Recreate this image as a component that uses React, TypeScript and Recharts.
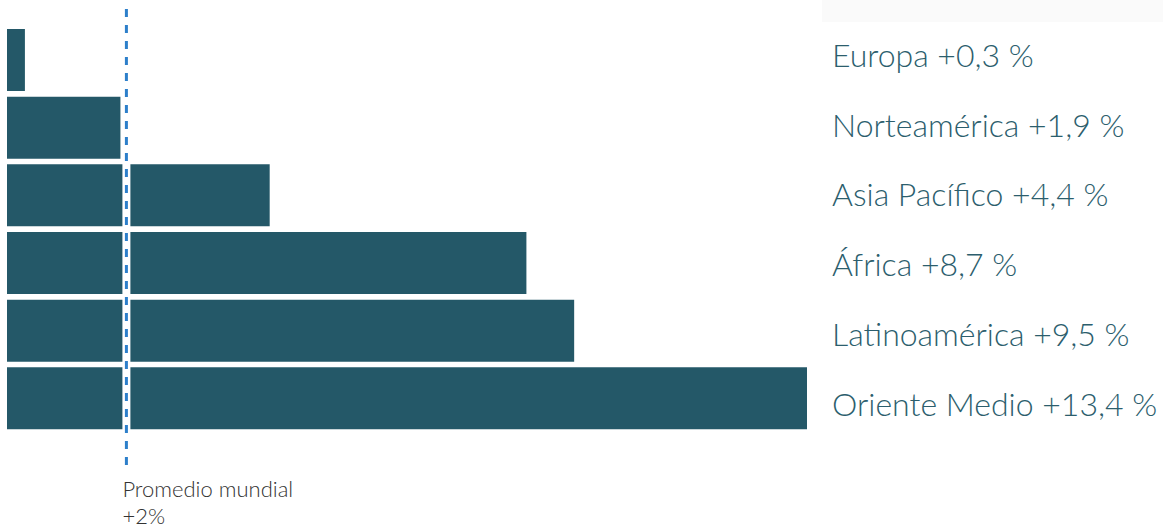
import { BarChart, Bar, XAxis, YAxis, ReferenceLine } from 'recharts'

const regions = ['Europa', 'Norteamérica', 'Asia Pacífico', 'África', 'Latinoamérica', 'Oriente Medio']
const growth = [0.3, 1.9, 4.4, 8.7, 9.5, 13.4]
const worldAverage = 2
const averageLabel = ['Promedio mundial', '+2%']

const data = regions.map((name, i) => ({
  name,
  value: growth[i],
  label: `${name} +${String(growth[i]).replace('.', ',')} %`
}))

const RegionTick = (props: any) => {
  const { x, y, payload, index } = props
  const row = data.find((d) => d.name === payload.value)
  return (
    <text
      x={x}
      y={y + 7 + 2.1 * (index ?? 0)}
      textAnchor="start"
      fill="#2c5e6d"
      fontSize={32}
      fontWeight={300}
      fontFamily="Lato, sans-serif"
    >
      {row ? row.label : payload.value}
    </text>
  )
}

const AverageLine = (props: any) => {
  const { x1, y1, y2 } = props
  const top = Math.min(y1, y2)
  const bottom = Math.max(y1, y2)
  return (
    <g>
      <line x1={x1} x2={x1} y1={top} y2={bottom} stroke="#ffffff" strokeWidth={8} />
      <line
        x1={x1}
        x2={x1}
        y1={top - 17}
        y2={bottom + 33}
        stroke="#2d7fca"
        strokeWidth={3}
        strokeDasharray="8 8"
      />
      <text x={x1 - 4} y={bottom + 65} fill="#333" fontSize={22} fontWeight={300} fontFamily="Lato, sans-serif">
        <tspan x={x1 - 4}>{averageLabel[0]}</tspan>
        <tspan x={x1 - 4} dy={27}>
          {averageLabel[1]}
        </tspan>
      </text>
    </g>
  )
}

export default function App() {
  return (
    <div style={{ position: 'absolute', left: 0, top: 0, width: 1163, height: 530, background: '#fff' }}>
      <div style={{ position: 'absolute', left: 822, top: 0, width: 341, height: 22, background: '#fafafa' }} />
      <BarChart
        width={1163}
        height={530}
        data={data}
        layout="vertical"
        margin={{ top: 26, right: 0, bottom: 98, left: 7 }}
        style={{ position: 'absolute', left: 0, top: 0 }}
      >
        <XAxis type="number" domain={[0, 13.4]} hide />
        <YAxis
          type="category"
          dataKey="name"
          orientation="right"
          width={356}
          axisLine={false}
          tickLine={false}
          tickSize={0}
          tickMargin={25}
          tick={<RegionTick />}
          interval={0}
        />
        <Bar dataKey="value" fill="#245868" barSize={62} isAnimationActive={false} />
        <ReferenceLine x={worldAverage} ifOverflow="visible" shape={<AverageLine />} />
      </BarChart>
    </div>
  )
}
